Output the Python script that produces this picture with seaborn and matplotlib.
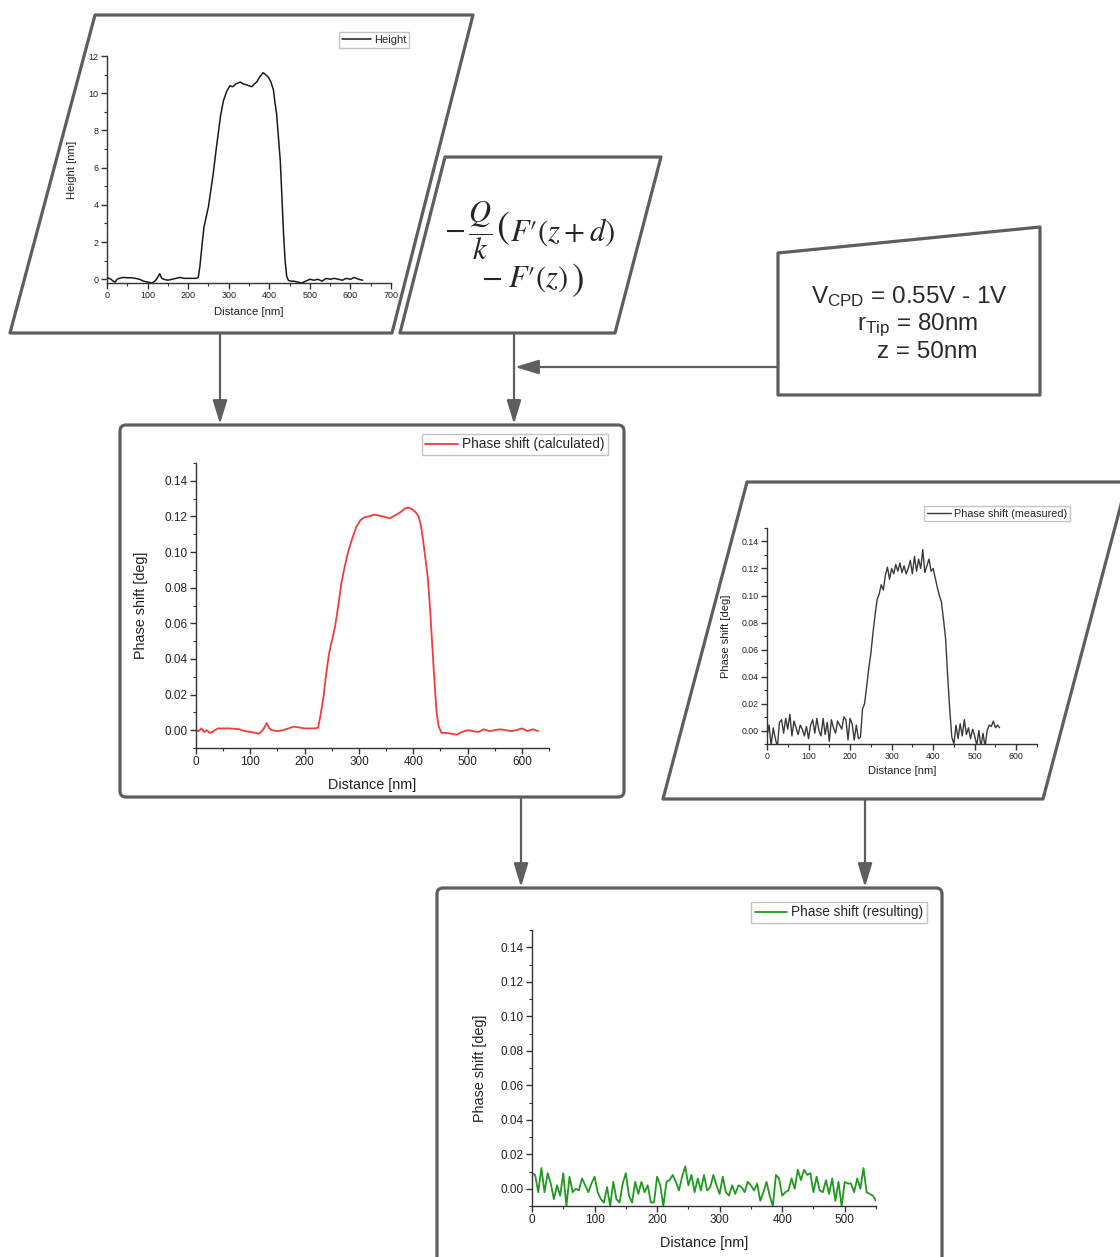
import numpy as np
import matplotlib
matplotlib.use('Agg')
import matplotlib.pyplot as plt
import seaborn as sns
from matplotlib.patches import Polygon, FancyBboxPatch, FancyArrowPatch
from matplotlib.ticker import MultipleLocator, FormatStrFormatter

sns.set_style('ticks')
plt.rcParams['font.family'] = ['Liberation Sans', 'DejaVu Sans']
plt.rcParams['mathtext.fontset'] = 'custom'
plt.rcParams['mathtext.rm'] = 'Liberation Sans'
plt.rcParams['mathtext.it'] = 'Liberation Sans:italic'

W, H = 1120, 1257
EDGE = '#5e5e5e'

# ---- data ----
height_x = [0, 5, 10, 15, 20, 25, 30, 40, 50, 60, 70, 80, 90, 100, 110, 115, 120, 125, 130, 135,
            140, 150, 160, 170, 180, 190, 200, 210, 220, 225, 229, 235, 239, 245, 250, 256, 262, 268, 274, 280,
            287, 295, 303, 310, 318, 328, 336, 344, 350, 357, 363, 369, 377, 385, 391, 398, 404, 410, 414, 418,
            423, 427, 431, 435, 439, 443, 447, 452, 460, 470, 480, 490, 500, 510, 520, 530, 540, 550, 560, 570,
            580, 590, 600, 610, 620, 630]
height_nm = [0.1, 0.05, 0.0, -0.1, -0.15, 0.0, 0.05, 0.1, 0.08, 0.08, 0.05, 0.0, -0.1, -0.15, -0.2, -0.15, -0.05, 0.1, 0.3, 0.05,
             0.0, -0.05, 0.0, 0.05, 0.1, 0.05, 0.05, 0.05, 0.05, 0.1, 0.7, 2.0, 2.8, 3.4, 3.9, 4.8, 5.7, 6.8, 7.8, 8.8,
             9.6, 10.1, 10.4, 10.35, 10.5, 10.6, 10.5, 10.45, 10.4, 10.35, 10.5, 10.6, 10.9, 11.1, 11.0, 10.85, 10.6, 10.2, 9.5, 8.9,
             7.5, 6.4, 4.5, 2.5, 1.0, 0.15, -0.05, -0.1, -0.1, -0.15, -0.2, -0.1, 0.0, -0.05, 0.0, -0.1, 0.05, 0.0, 0.05, 0.0,
             -0.05, 0.05, 0.0, 0.1, 0.0, -0.05]

calc_x = height_x
calc_deg = [0.0, -0.0005, 0.001, -0.001, 0.0, -0.0015, -0.001, 0.001, 0.001, 0.001, 0.0008, 0.0005, -0.0005, -0.001, -0.0015, -0.002, -0.001, 0.001, 0.004, 0.001,
            0.0, -0.0005, 0.0, 0.001, 0.002, 0.0015, 0.001, 0.001, 0.001, 0.0015, 0.008, 0.019, 0.03, 0.043, 0.05, 0.058, 0.07, 0.083, 0.092, 0.1,
            0.107, 0.114, 0.118, 0.1195, 0.12, 0.121, 0.1205, 0.12, 0.1195, 0.119, 0.12, 0.121, 0.1225, 0.1245, 0.125, 0.124, 0.1225, 0.12, 0.115, 0.107,
            0.095, 0.085, 0.068, 0.048, 0.028, 0.01, 0.002, -0.0015, -0.0015, -0.002, -0.0025, -0.001, 0.0, -0.0005, -0.001, 0.0005, -0.0005, 0.0, 0.0005, 0.0,
            -0.0005, 0.0, 0.001, -0.0005, 0.0005, -0.0005]

meas_deg = [-0.004, 0.004, -0.011, 0.002, -0.006, -0.012, 0.006, 0.008, -0.002, 0.009,
            0.001, 0.012, -0.004, 0.007, 0.002, -0.003, 0.004, 0.001, -0.004, 0.003,
            -0.006, 0.004, 0.008, -0.002, 0.009, 0.0, -0.004, 0.009, -0.003, 0.006,
            -0.008, 0.008, 0.002, -0.002, 0.007, 0.004, 0.001, 0.01, 0.008, -0.007,
            0.009, 0.005, -0.007, 0.004, -0.006,
            -0.005, 0.016, 0.02, 0.033, 0.046, 0.057, 0.072, 0.085, 0.097, 0.101,
            0.108, 0.104, 0.115, 0.121, 0.112, 0.12, 0.116, 0.123, 0.118, 0.124,
            0.117, 0.122, 0.116, 0.12, 0.126, 0.116, 0.129, 0.118, 0.127, 0.12,
            0.134, 0.117, 0.122, 0.127, 0.118, 0.12, 0.113, 0.106, 0.1, 0.095,
            0.082, 0.068, 0.04, 0.015, -0.005, -0.01, 0.004, -0.006, 0.005, -0.004,
            0.008, -0.003, 0.002, -0.006, 0.001, -0.004, -0.011, 0.0, -0.012, -0.002,
            -0.012, 0.0, 0.004, 0.003, 0.007, 0.002, 0.004, 0.002]
meas_x = np.arange(0, 5 * len(meas_deg), 5)

res_deg = [0.009, 0.008, -0.002, 0.012, -0.002, 0.009, 0.003, -0.006, 0.002, -0.004,
           0.009, -0.01, 0.007, -0.002, 0.0, -0.001, 0.006, 0.002, -0.002, 0.003,
           0.007, -0.002, -0.006, -0.008, 0.001, -0.01, 0.004, -0.006, -0.008, 0.003,
           0.009, -0.004, -0.008, 0.004, -0.003, 0.004, -0.002, 0.002, -0.008, -0.008,
           0.007, 0.002, -0.01, 0.004, 0.005, 0.008, 0.004, -0.001, 0.007, 0.013,
           0.002, 0.008, -0.002, 0.006, -0.001, 0.008, -0.001, 0.001, 0.008, 0.002,
           -0.003, 0.007, -0.002, -0.004, 0.002, -0.003, 0.002, 0.001, -0.002, 0.004,
           0.002, -0.001, 0.003, -0.007, -0.002, 0.004, -0.004, -0.01, 0.008, 0.006,
           -0.004, -0.002, -0.001, 0.006, 0.0, 0.011, 0.005, 0.011, 0.008, 0.009,
           -0.002, 0.007, -0.001, -0.002, 0.005, -0.003, 0.006, -0.007, 0.004, -0.01,
           0.004, 0.003, 0.003, -0.002, 0.006, 0.0, 0.012, -0.002, -0.003, -0.004,
           -0.007]
res_x = np.arange(0, 5 * len(res_deg), 5)

fig = plt.figure(figsize=(W / 100, H / 100), dpi=100)
bg = fig.add_axes([0, 0, 1, 1])
bg.set_xlim(0, W)
bg.set_ylim(H, 0)
bg.axis('off')


def shape(pts):
    bg.add_patch(Polygon(pts, closed=True, fc='white', ec=EDGE, lw=2.3, joinstyle='round'))


def rbox(x0, y0, x1, y1):
    bg.add_patch(FancyBboxPatch((x0, y0), x1 - x0, y1 - y0, boxstyle='round,pad=0,rounding_size=6',
                                fc='white', ec=EDGE, lw=2.3))


def arrow(x0, y0, x1, y1):
    bg.add_patch(FancyArrowPatch((x0, y0), (x1, y1), arrowstyle='-|>,head_length=0.72,head_width=0.22',
                                 mutation_scale=20, color=EDGE, lw=1.6, shrinkA=0, shrinkB=0))


# boxes
shape([(95, 15), (473, 15), (392, 333), (10, 333)])
shape([(445, 157), (661, 157), (615, 333), (400, 333)])
shape([(778, 253), (1040, 227), (1040, 395), (778, 395)])
rbox(120, 425, 624, 797)
shape([(747, 482), (1127, 482), (1043, 799), (663, 799)])
rbox(437, 888, 942, 1275)

# arrows
arrow(220, 334, 220, 424)
arrow(514, 334, 514, 424)
arrow(777, 367, 515, 367)
arrow(521, 798, 521, 887)
arrow(865, 800, 865, 887)

# formula
FS = 22
bg.text(444, 231, r"$-\,\dfrac{Q}{k}$", ha='left', va='center', fontsize=FS, math_fontfamily='stix')
bg.text(496, 228, r"$($", ha='left', va='center', fontsize=28, math_fontfamily='stix')
bg.text(510, 241, r"$F′(z+d)$", ha='left', va='baseline', fontsize=FS, math_fontfamily='stix')
bg.text(481, 287, r"$-\;F′(z)$", ha='left', va='baseline', fontsize=FS, math_fontfamily='stix')
bg.text(571, 280, r"$)$", ha='left', va='center', fontsize=27, math_fontfamily='stix')

# parameter box
bg.text(811, 303, r"V$_{\mathrm{CPD}}$ = 0.55V - 1V", ha='left', va='baseline', fontsize=17.5,
        color='#2a2a2a', math_fontfamily='custom')
bg.text(857, 330, r"r$_{\mathrm{Tip}}$ = 80nm", ha='left', va='baseline', fontsize=17.5,
        color='#2a2a2a', math_fontfamily='custom')
bg.text(877, 358, "z = 50nm", ha='left', va='baseline', fontsize=17.5, color='#2a2a2a')


def panel(box, x, y, color, label, xlim, ylim, xmaj, ymaj, fmt, ylabel,
          fs_tick, fs_lab, fs_leg, lw, leg_xy, ylab_px, xlab_px, handlelen):
    l, t, r, b = box
    ax = fig.add_axes([l / W, 1 - b / H, (r - l) / W, (b - t) / H])
    ax.patch.set_alpha(0)
    sns.lineplot(x=x, y=y, ax=ax, color=color, lw=lw, label=label, sort=False)
    ax.set_xlim(*xlim)
    ax.set_ylim(*ylim)
    ax.xaxis.set_major_locator(MultipleLocator(xmaj))
    ax.xaxis.set_minor_locator(MultipleLocator(xmaj / 2))
    ax.yaxis.set_major_locator(MultipleLocator(ymaj))
    ax.yaxis.set_minor_locator(MultipleLocator(ymaj / 2))
    ax.yaxis.set_major_formatter(FormatStrFormatter(fmt))
    for side in ['top', 'right']:
        ax.spines[side].set_visible(False)
    for side in ['left', 'bottom']:
        ax.spines[side].set_color('#333333')
        ax.spines[side].set_linewidth(1)
    ax.tick_params(which='major', direction='out', length=4, width=1, colors='#333333',
                   labelsize=fs_tick, labelcolor='#222222', pad=2)
    ax.tick_params(which='minor', direction='out', length=2, width=0.8, colors='#333333')
    ax.set_xlabel('Distance [nm]', fontsize=fs_lab, color='#222222')
    ax.set_ylabel(ylabel, fontsize=fs_lab, color='#222222')
    ax.yaxis.set_label_coords(-ylab_px / (r - l), 0.5)
    ax.xaxis.set_label_coords(0.5, -xlab_px / (b - t))
    leg = ax.legend(loc='upper right', bbox_to_anchor=(leg_xy[0] / W, 1 - leg_xy[1] / H),
                    bbox_transform=fig.transFigure, frameon=True, fancybox=False, fontsize=fs_leg,
                    handlelength=handlelen, borderpad=0.25, handletextpad=0.3, borderaxespad=0,
                    framealpha=1)
    leg.get_frame().set_edgecolor('#c4c4c4')
    leg.get_frame().set_linewidth(1)
    return ax


panel((107, 56, 391, 283), height_x, height_nm, '#1a1a1a', 'Height', (0, 700), (-0.2, 12), 100, 2, '%d',
      'Height [nm]', 6.5, 8.2, 8, 1.1, (409, 32), 30, 24, 2.6)
panel((196, 463, 549, 748), calc_x, calc_deg, '#f03c3c', 'Phase shift (calculated)', (0, 650), (-0.01, 0.15),
      100, 0.02, '%.2f', 'Phase shift [deg]', 8.5, 10.4, 9.8, 1.3, (608, 434), 48, 30, 2.4)
panel((767, 528, 1037, 744), meas_x, meas_deg, '#3a3a3a', 'Phase shift (measured)', (0, 650), (-0.01, 0.15),
      100, 0.02, '%.2f', 'Phase shift [deg]', 6.3, 8, 7.8, 1.0, (1070, 506), 36, 22, 2.2)
panel((532, 930, 876, 1206), res_x, res_deg, '#1f9a1f', 'Phase shift (resulting)', (0, 550), (-0.01, 0.15),
      100, 0.02, '%.2f', 'Phase shift [deg]', 8.5, 10.4, 9.8, 1.3, (927, 902), 45, 30, 2.4)

fig.savefig('out.png', dpi=100)
